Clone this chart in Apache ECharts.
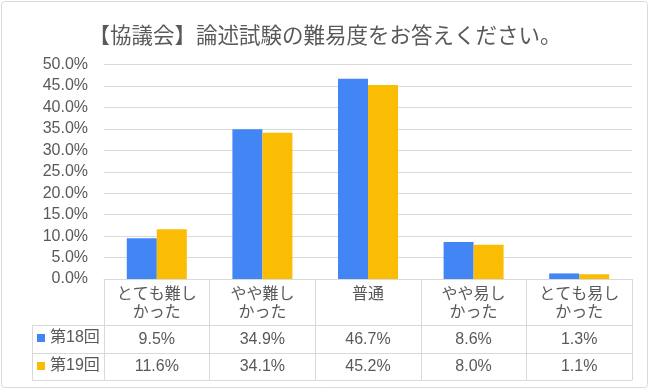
<!DOCTYPE html>
<html><head><meta charset="utf-8">
<script src="https://cdn.jsdelivr.net/npm/echarts@6/dist/echarts.min.js"></script>
<style>html,body{margin:0;padding:0;background:#fff}#c{width:650px;height:390px}</style>
</head><body><div id="c"></div>
<script>
const titleText = '【協議会】論述試験の難易度をお答えください。';
const categories = ['とても難し\nかった', 'やや難し\nかった', '普通', 'やや易し\nかった', 'とても易し\nかった'];
const seriesNames = ['第18回', '第19回'];
const s18 = [9.5, 34.9, 46.7, 8.6, 1.3];
const s19 = [11.6, 34.1, 45.2, 8.0, 1.1];
const yTicks = {min: 0, max: 50, interval: 5};
const colors = ['#4285F4', '#FBBC04'];

const FONT = '"Liberation Sans", "Noto Sans CJK JP", sans-serif';
const TFONT = '"Noto Sans CJK JP", sans-serif';
const TXT = '#595959';
const LINE = '#d9d9d9';
const fmt = v => v.toFixed(1) + '%';

const chart = echarts.init(document.getElementById('c'), null, {renderer: 'canvas'});
const baseX = {
  type: 'category', data: categories, position: 'bottom',
  axisLine: {show: true, lineStyle: {color: LINE}},
  axisTick: {show: true, lineStyle: {color: LINE}},
  splitLine: {show: false}
};
chart.setOption({
  animation: false,
  textStyle: {fontFamily: FONT},
  title: {text: titleText, left: 'center', top: 24, padding: 0,
    textStyle: {fontSize: 21.5, fontWeight: 'normal', color: TXT, fontFamily: TFONT}},
  legend: {orient: 'vertical', left: 37, top: 330, padding: 0, itemWidth: 8, itemHeight: 8, itemGap: 12,
    icon: 'rect', data: seriesNames,
    textStyle: {fontSize: 16, color: TXT, lineHeight: 16, fontFamily: FONT}},
  grid: {left: 104, right: 18, top: 64.5, bottom: 111, containLabel: false},
  xAxis: [
    Object.assign({}, baseX, {
      axisTick: {show: true, length: 46, lineStyle: {color: LINE}},
      axisLabel: {fontSize: 16, color: TXT, lineHeight: 18, margin: 7, interval: 0}
    }),
    Object.assign({}, baseX, {offset: 46,
      axisTick: {show: true, length: 28, lineStyle: {color: LINE}},
      axisLabel: {fontSize: 16, color: TXT, margin: 7, interval: 0,
        formatter: (v, i) => fmt(s18[i])}
    }),
    Object.assign({}, baseX, {offset: 74,
      axisTick: {show: true, length: 27, lineStyle: {color: LINE}},
      axisLabel: {fontSize: 16, color: TXT, margin: 6, interval: 0,
        formatter: (v, i) => fmt(s19[i])}
    }),
    Object.assign({}, baseX, {offset: 101, axisTick: {show: false}, axisLabel: {show: false}})
  ],
  yAxis: {
    type: 'value', min: yTicks.min, max: yTicks.max, interval: yTicks.interval,
    axisLine: {show: false}, axisTick: {show: false},
    axisLabel: {fontSize: 16, color: TXT, margin: 16, formatter: v => fmt(v)},
    splitLine: {lineStyle: {color: LINE}}
  },
  series: [
    {name: seriesNames[0], type: 'bar', data: s18, barWidth: 30, barGap: '0%', xAxisIndex: 0,
      itemStyle: {color: colors[0]}},
    {name: seriesNames[1], type: 'bar', data: s19, barWidth: 30, barGap: '0%', xAxisIndex: 0,
      itemStyle: {color: colors[1]}}
  ],
  graphic: [
    {type: 'rect', shape: {x: 1.5, y: 1.5, width: 646, height: 386, r: 3}, silent: true, z: -1,
      style: {fill: '#fff', stroke: LINE, lineWidth: 1}},
    {type: 'line', shape: {x1: 32, y1: 325.5, x2: 104, y2: 325.5}, style: {stroke: LINE, lineWidth: 1}},
    {type: 'line', shape: {x1: 32, y1: 353.5, x2: 104, y2: 353.5}, style: {stroke: LINE, lineWidth: 1}},
    {type: 'line', shape: {x1: 32, y1: 380.5, x2: 104, y2: 380.5}, style: {stroke: LINE, lineWidth: 1}},
    {type: 'line', shape: {x1: 32.5, y1: 325, x2: 32.5, y2: 381}, style: {stroke: LINE, lineWidth: 1}}
  ]
});
</script></body></html>
